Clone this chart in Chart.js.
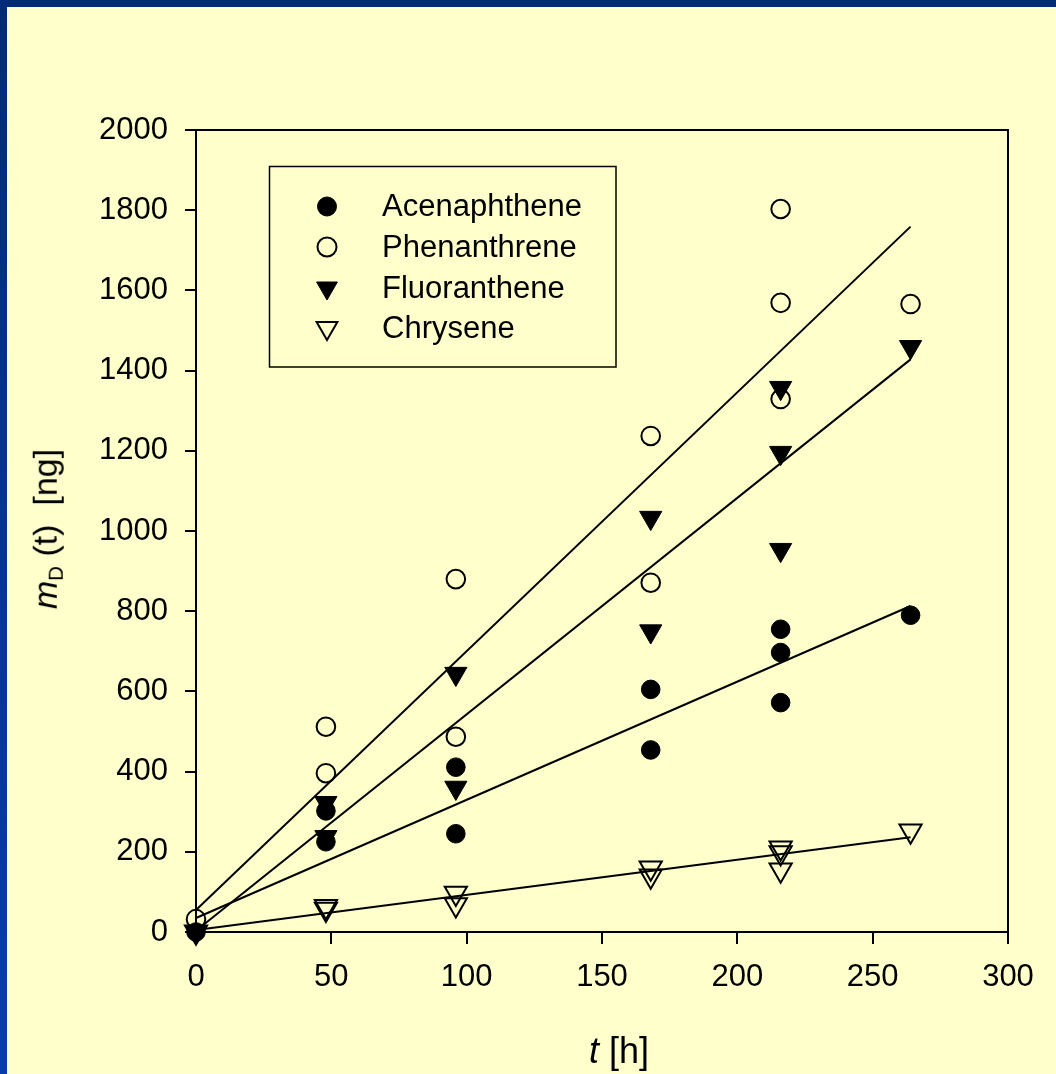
<!DOCTYPE html>
<html>
<head>
<meta charset="utf-8">
<title>PAH uptake m_D(t)</title>
<script src="https://cdn.jsdelivr.net/npm/chart.js@4.4.1/dist/chart.umd.min.js"></script>
<style>
  html, body { margin: 0; padding: 0; }
  body {
    width: 1056px; height: 1074px; position: relative; overflow: hidden;
    background: linear-gradient(180deg, #012a78 0%, #0a3ea6 100%);
    font-family: "Liberation Sans", Arial, sans-serif;
  }
  #panel { position: absolute; left: 7px; top: 7px; right: 0; bottom: 0; background: #ffffcc; }
  #chart { position: absolute; left: 0; top: 0; }
  .axis-title { position: absolute; color: #000; white-space: nowrap; line-height: 1; }
  #ytitle { left: 47px; top: 529px; font-size: 34px; transform: translate(-50%, -50%) rotate(-90deg); }
  #xtitle { left: 619px; top: 1051px; font-size: 36px; transform: translate(-50%, -50%); }
  #ytitle sub { font-size: 0.6em; vertical-align: -0.3em; }
</style>
</head>
<body>
<div id="panel"></div>
<canvas id="chart" width="1056" height="1074"></canvas>
<div class="axis-title" id="ytitle"><i>m</i><sub>D</sub>&nbsp;(t)&nbsp; [ng]</div>
<div class="axis-title" id="xtitle"><i>t</i>&nbsp;[h]</div>

<script>
// sampling times [h] and measured masses [ng]
const acenaphtheneT = [0, 48, 48, 96, 96, 168, 168, 216, 216, 216, 264];
const acenaphtheneM = [0, 302, 225, 411, 245, 605, 454, 755, 697, 572, 790];

const phenanthreneT = [0, 48, 48, 96, 96, 168, 168, 216, 216, 216, 264];
const phenanthreneM = [32, 512, 396, 880, 487, 1237, 871, 1803, 1569, 1329, 1566];

const fluorantheneT = [0, 48, 48, 96, 96, 168, 168, 216, 216, 216, 264];
const fluorantheneM = [0, 322, 237, 644, 360, 1033, 750, 1357, 1195, 953, 1459];

const chryseneT = [0, 48, 48, 96, 96, 168, 168, 216, 216, 216, 264];
const chryseneM = [0, 64, 57, 97, 68, 160, 140, 210, 198, 155, 252];

// linear fits, evaluated at start and end of exposure
const fitT = [0, 264];
const acenaphtheneFit = [35, 813];
const phenanthreneFit = [55, 1759];
const fluorantheneFit = [3, 1428];
const chryseneFit = [5, 236];

const xTicks = [0, 50, 100, 150, 200, 250, 300];
const yTicks = [0, 200, 400, 600, 800, 1000, 1200, 1400, 1600, 1800, 2000];

const toPoints = (xs, ys) => xs.map((x, i) => ({ x: x, y: ys[i] }));

function markerSet(label, xs, ys, style, filled, order) {
    const tri = style === 'triangle';
    return {
        type: 'scatter',
        label: label,
        data: toPoints(xs, ys),
        order: order,
        clip: false,
        pointStyle: style,
        rotation: tri ? 180 : 0,
        pointRadius: tri ? 12.8 : 9.3,
        pointHoverRadius: tri ? 12.8 : 9.3,
        backgroundColor: filled ? '#000' : 'rgba(0,0,0,0)',
        borderColor: '#000',
        borderWidth: filled ? 1 : 2
    };
}

function fitLine(ys) {
    return {
        type: 'line',
        data: toPoints(fitT, ys),
        order: 0,
        clip: false,
        borderColor: '#000',
        borderWidth: 2,
        pointRadius: 0,
        pointHoverRadius: 0,
        fill: false,
        tension: 0,
        isFit: true
    };
}

// box round the plot area (drawn under the markers)
const plotFrame = {
    id: 'plotFrame',
    beforeDatasetsDraw(chart) {
        const { ctx, chartArea: a } = chart;
        ctx.save();
        ctx.strokeStyle = '#000';
        ctx.lineWidth = 2;
        ctx.strokeRect(a.left, a.top, a.right - a.left, a.bottom - a.top);
        ctx.restore();
    }
};

// boxed legend inside the plot area
const boxLegend = {
    id: 'boxLegend',
    afterDraw(chart) {
        const { ctx } = chart;
        const sets = chart.data.datasets.filter(d => !d.isFit);
        const rows = [206.5, 247, 288, 328];
        ctx.save();
        ctx.fillStyle = '#ffffcc';
        ctx.fillRect(269, 166, 347, 201);
        ctx.strokeStyle = '#000';
        ctx.lineWidth = 1.5;
        ctx.strokeRect(269.5, 166.5, 346.5, 200.5);
        sets.forEach((d, i) => {
            const y = rows[i];
            ctx.fillStyle = d.backgroundColor;
            ctx.strokeStyle = d.borderColor;
            ctx.lineWidth = d.borderWidth;
            Chart.helpers.drawPoint(ctx, {
                pointStyle: d.pointStyle,
                rotation: d.rotation,
                radius: d.pointStyle === 'triangle' ? 12 : 9.5,
                borderWidth: d.borderWidth
            }, 327, y);
            ctx.fillStyle = '#000';
            ctx.font = "31px 'Liberation Sans', Arial, sans-serif";
            ctx.textBaseline = 'middle';
            ctx.textAlign = 'left';
            ctx.fillText(d.label, 382, y + 1);
        });
        ctx.restore();
    }
};

Chart.defaults.font.family = "'Liberation Sans', Arial, sans-serif";
Chart.defaults.font.size = 31;
Chart.defaults.color = '#000';

new Chart(document.getElementById('chart'), {
    type: 'scatter',
    data: {
        datasets: [
            markerSet('Acenaphthene', acenaphtheneT, acenaphtheneM, 'circle', true, 1),
            markerSet('Phenanthrene', phenanthreneT, phenanthreneM, 'circle', false, 3),
            markerSet('Fluoranthene', fluorantheneT, fluorantheneM, 'triangle', true, 2),
            markerSet('Chrysene', chryseneT, chryseneM, 'triangle', false, 4),
            fitLine(acenaphtheneFit),
            fitLine(phenanthreneFit),
            fitLine(fluorantheneFit),
            fitLine(chryseneFit)
        ]
    },
    options: {
        responsive: false,
        animation: false,
        events: [],
        layout: { padding: { top: 130, right: 48, left: 0, bottom: 0 } },
        plugins: {
            legend: { display: false },
            tooltip: { enabled: false }
        },
        scales: {
            x: {
                type: 'linear',
                min: 0,
                max: 300,
                afterBuildTicks: (s) => { s.ticks = xTicks.map(v => ({ value: v })); },
                afterFit: (s) => { s.height = 142; },
                border: { display: false },
                grid: { drawOnChartArea: false, drawTicks: true, tickLength: 12, color: '#000', lineWidth: 2 },
                ticks: { padding: 15, maxRotation: 0, callback: (v) => String(v) }
            },
            y: {
                type: 'linear',
                min: 0,
                max: 2000,
                afterBuildTicks: (s) => { s.ticks = yTicks.map(v => ({ value: v })); },
                afterFit: (s) => { s.width = 196; },
                border: { display: false },
                grid: { drawOnChartArea: false, drawTicks: true, tickLength: 11, color: '#000', lineWidth: 2 },
                ticks: { padding: 17, callback: (v) => String(v) }
            }
        }
    },
    plugins: [plotFrame, boxLegend]
});
</script>
</body>
</html>
